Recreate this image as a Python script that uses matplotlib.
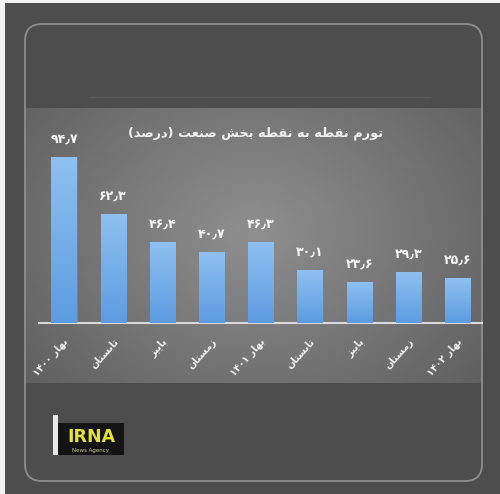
import matplotlib
matplotlib.use("Agg")
import matplotlib.pyplot as plt
import matplotlib.patches as patches
from matplotlib.colors import LinearSegmentedColormap
import numpy as np

# data (Persian labels, values in percent)
title = "تورم نقطه به نقطه بخش صنعت (درصد)"
seasons = ["بهار ۱۴۰۰", "تابستان", "پاییز", "زمستان",
           "بهار ۱۴۰۱", "تابستان", "پاییز", "زمستان", "بهار ۱۴۰۲"]
values = [94.7, 62.3, 46.4, 40.7, 46.3, 30.1, 23.6, 29.3, 25.6]

# presentation forms: isolated, final, initial, medial (None = no left join)
FORMS = {
    "ا": ("\uFE8D", "\uFE8E", None, None),
    "ب": ("\uFE8F", "\uFE90", "\uFE91", "\uFE92"),
    "پ": ("\uFB56", "\uFB57", "\uFB58", "\uFB59"),
    "ت": ("\uFE95", "\uFE96", "\uFE97", "\uFE98"),
    "خ": ("\uFEA5", "\uFEA6", "\uFEA7", "\uFEA8"),
    "د": ("\uFEA9", "\uFEAA", None, None),
    "ر": ("\uFEAD", "\uFEAE", None, None),
    "ز": ("\uFEAF", "\uFEB0", None, None),
    "س": ("\uFEB1", "\uFEB2", "\uFEB3", "\uFEB4"),
    "ش": ("\uFEB5", "\uFEB6", "\uFEB7", "\uFEB8"),
    "ص": ("\uFEB9", "\uFEBA", "\uFEBB", "\uFEBC"),
    "ط": ("\uFEC1", "\uFEC2", "\uFEC3", "\uFEC4"),
    "ع": ("\uFEC9", "\uFECA", "\uFECB", "\uFECC"),
    "ق": ("\uFED5", "\uFED6", "\uFED7", "\uFED8"),
    "م": ("\uFEE1", "\uFEE2", "\uFEE3", "\uFEE4"),
    "ن": ("\uFEE5", "\uFEE6", "\uFEE7", "\uFEE8"),
    "ه": ("\uFEE9", "\uFEEA", "\uFEEB", "\uFEEC"),
    "و": ("\uFEED", "\uFEEE", None, None),
    "ی": ("\uFBFC", "\uFBFD", "\uFBFE", "\uFBFF"),
}


def shape_word(word):
    out = []
    for i, ch in enumerate(word):
        if ch not in FORMS:
            out.append(ch)
            continue
        prev = word[i - 1] if i > 0 else None
        nxt = word[i + 1] if i + 1 < len(word) else None
        join_prev = prev in FORMS and FORMS[prev][2] is not None
        join_next = nxt in FORMS and FORMS[ch][2] is not None
        iso, fin, ini, med = FORMS[ch]
        if join_prev and join_next:
            out.append(med)
        elif join_prev:
            out.append(fin)
        elif join_next:
            out.append(ini)
        else:
            out.append(iso)
    return "".join(out)


def rtl(text):
    # shape each word, then reverse to visual order; digit runs stay LTR
    words = text.split(" ")
    visual = []
    for w in reversed(words):
        if w and w[0] in "۰۱۲۳۴۵۶۷۸۹":
            visual.append(w)
        else:
            s = shape_word(w)[::-1]
            s = s.translate(str.maketrans("()", ")("))
            visual.append(s)
    return " ".join(visual)


def fa_num(v):
    digits = "۰۱۲۳۴۵۶۷۸۹"
    s = f"{v:.1f}"
    return "".join(digits[int(c)] if c.isdigit() else "\u066B" for c in s)


W, H = 500, 494
fig = plt.figure(figsize=(W / 100, H / 100), dpi=100)
fig.patch.set_facecolor("#f2f2f2")

# background / decoration axes in pixel coordinates
bg = fig.add_axes([0, 0, 1, 1])
bg.set_xlim(0, W)
bg.set_ylim(H, 0)
bg.axis("off")
bg.add_patch(patches.Rectangle((5, 3), W - 5, H - 3, facecolor="#4d4d4d", edgecolor="none"))

# gradient panel behind the chart
yy, xx = np.mgrid[0:1:120j, 0:1:200j]
r = np.sqrt(((xx - 0.5) / 0.6) ** 2 + ((yy - 0.45) / 0.8) ** 2)
panel = np.clip(0.56 - 0.17 * r, 0.3, 0.6)
bg.imshow(panel, cmap="gray", vmin=0, vmax=1, extent=[25, 482, 383, 108],
          aspect="auto", interpolation="bilinear", zorder=1)
bg.plot([90, 430], [97, 97], color="#5a5a5a", linewidth=1, zorder=1)

frame = patches.FancyBboxPatch((25, 24), 457, 457, boxstyle="round,pad=0,rounding_size=17",
                               facecolor="none", edgecolor="#8e8e8e", linewidth=1.3, zorder=3)
bg.add_patch(frame)

# IRNA logo
bg.add_patch(patches.Rectangle((53, 415), 5, 40, facecolor="#e8e8e8", edgecolor="none", zorder=3))
bg.add_patch(patches.Rectangle((58, 423), 66, 32, facecolor="#141414", edgecolor="none", zorder=3))
bg.text(91, 437, "IRNA", color="#e3e13a", fontsize=12.5, fontweight="bold",
        ha="center", va="center", zorder=4)
bg.text(91, 450, "News Agency", color="#c8c8a0", fontsize=4, ha="center", va="center", zorder=4)

bg.text(256, 133, rtl(title), color="#f0f0f0", fontsize=9.3, fontweight="bold",
        ha="center", va="center", family=["DejaVu Sans"], zorder=4)

# chart axes
x = np.arange(len(values))
ymax = 100
px_per_unit = 1.753
ax = fig.add_axes([39.4 / W, (H - 323) / H, 442.8 / W, ymax * px_per_unit / H])
ax.patch.set_alpha(0)
for s in ["left", "right", "top"]:
    ax.spines[s].set_visible(False)
ax.spines["bottom"].set_color("#d9d9d9")
ax.spines["bottom"].set_linewidth(1.5)
ax.set_yticks([])
ax.set_xticks([])

bars = ax.bar(x, values, width=0.51, color="#7fb3ea", edgecolor="#5b86b8", linewidth=0.8, zorder=2)
grad = np.linspace(0, 1, 100).reshape(-1, 1)
bar_cmap = LinearSegmentedColormap.from_list("barblue", ["#5d9ce2", "#8fc0f0"])
for b, v in zip(bars, values):
    im = ax.imshow(grad, cmap=bar_cmap, origin="lower", aspect="auto",
                   extent=[b.get_x(), b.get_x() + b.get_width(), 0, v], zorder=3)
    im.set_clip_path(b)
    ax.annotate(fa_num(v), (b.get_x() + b.get_width() / 2, v), xytext=(0, 8),
                textcoords="offset points", ha="center", va="bottom", color="#f4f4f4",
                fontsize=9, fontweight="bold", family=["DejaVu Sans"], annotation_clip=False)
ax.set_xlim(-0.5, len(values) - 0.5)
ax.set_ylim(0, ymax)

for i, lab in enumerate(seasons):
    ax.annotate(rtl(lab), (i, 0), xytext=(2, -12), textcoords="offset points",
                rotation=48, rotation_mode="anchor", ha="right", va="center",
                color="#f0f0f0", fontsize=7, fontweight="bold", family=["DejaVu Sans"],
                annotation_clip=False)

fig.savefig("out.png", dpi=100, facecolor=fig.get_facecolor())
